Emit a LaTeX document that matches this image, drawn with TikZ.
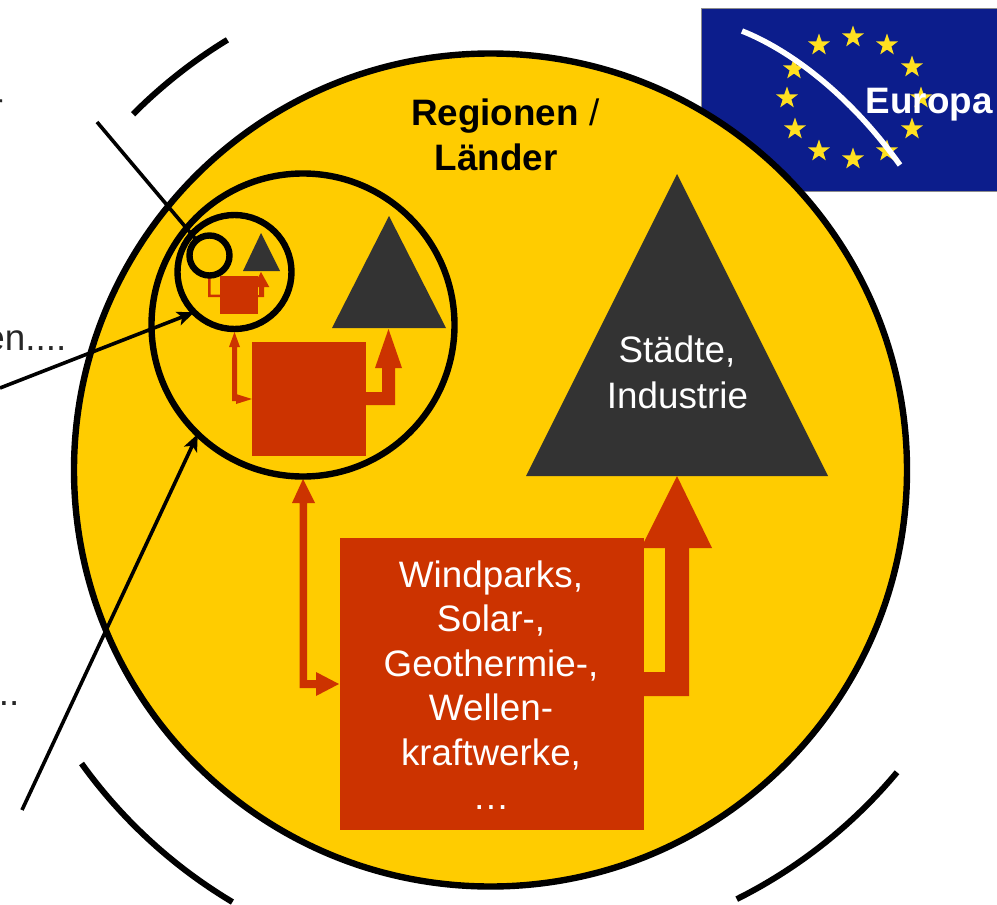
\documentclass[tikz,border=0pt]{standalone}
\usepackage{fontspec}
\setmainfont{Liberation Sans}
\usetikzlibrary{shapes.geometric,arrows.meta}
\definecolor{gold}{HTML}{FFCC00}
\definecolor{brick}{HTML}{CC3300}
\definecolor{slate}{HTML}{333333}
\definecolor{eublue}{HTML}{0C1D8C}
\definecolor{eustar}{HTML}{FFE020}
\tikzset{
  ring/.style={circle,draw=black,line width=6.4pt,inner sep=0pt,outer sep=0pt},
  redbox/.style={rectangle,fill=brick,inner sep=0pt,outer sep=0pt},
  tri/.style={fill=slate},
  redarrow/.style={fill=brick},
  eustarnode/.style={star,star points=5,star point ratio=2.5,fill=eustar,minimum size=23pt,inner sep=0pt},
  txt/.style={font=\fontsize{36.8pt}{44.3pt}\selectfont,align=center,inner sep=0pt},
  boldtxt/.style={txt,font=\fontsize{36.8pt}{44.3pt}\selectfont\bfseries},
  blackline/.style={draw=black,line width=3.6pt},
  outerarc/.style={draw=black,line width=6pt},
  headed/.style={-{Stealth[length=17pt,width=14pt,inset=4pt]}}
}
\begin{document}
\begin{tikzpicture}[x=1pt,y=-1pt]
\useasboundingbox (0,0) rectangle (997,905);
% flag
\node[rectangle,fill=eublue,draw=black!45,line width=1.2pt,inner sep=0pt,minimum width=297pt,minimum height=183pt,anchor=north west] (flag) at (701,8) {};
\foreach \n/\x/\y in {a/853/37,b/887/45,c/912/67,d/921/98,e/912/129,f/887/151,g/853/159,h/819/151,i/795/129,j/787/98,k/794/69,l/819/45}
  \node[eustarnode] (s\n) at (\x,\y) {};
\draw[white,line width=5.5pt] (742,31) .. controls (790,50) and (850,95) .. (900,165);
\node[boldtxt,text=white,anchor=base west] (europa) at (865.5,113) {Europa};
% outer arcs
\draw[outerarc] plot[domain=-121.4:-135.1,samples=40] ({490+504*cos(\x)},{470+504*sin(\x)});
\draw[outerarc] plot[domain=144.3:120.8,samples=40] ({490+503*cos(\x)},{470+503*sin(\x)});
\draw[outerarc] plot[domain=36.6:60.1,samples=40] ({490+(507-(\x-36.6)*0.51)*cos(\x)},{470+(507-(\x-36.6)*0.51)*sin(\x)});
% regions
\node[ring,fill=gold,minimum size=833pt] (big) at (490.5,470) {};
% triangles
\fill[tri] (677,174) -- (828,476) -- (526,476) -- cycle;
\fill[tri] (389,216) -- (446,328) -- (332,328) -- cycle;
\fill[tri] (261,233) -- (280,271) -- (243,271) -- cycle;
% red arrows to towns
\fill[redarrow] (677,476) -- (712,548) -- (689,548) -- (689,696) -- (640,696) -- (640,672) -- (665,672) -- (665,548) -- (641,548) -- cycle;
\fill[redarrow] (388.5,329) -- (402,368) -- (395,368) -- (395,405) -- (360,405) -- (360,392) -- (382,392) -- (382,368) -- (375,368) -- cycle;
\fill[redarrow] (261,272) -- (269.3,287) -- (264,287) -- (264,297) -- (255,297) -- (255,295) -- (259,295) -- (259,287) -- (253,287) -- cycle;
% red double arrows
\fill[redarrow] (303,479) -- (315,503) -- (307,503) -- (307,680) -- (316,680) -- (316,672) -- (339,684) -- (316,696) -- (316,688) -- (299.5,688) -- (299.5,503) -- (292,503) -- cycle;
\fill[redarrow] (234.5,332) -- (240,347) -- (237,347) -- (237,394.5) -- (236,394) -- (252,399) -- (236,404) -- (236,401) -- (232,401) -- (232,347) -- (229,347) -- cycle;
\fill[redarrow] (208,277) -- (210.6,277) -- (210.6,294.5) -- (222,294.5) -- (222,297) -- (208,297) -- cycle;
% boxes
\node[redbox,minimum width=304pt,minimum height=292pt,anchor=north west] (wind) at (340,538) {};
\node[redbox,minimum width=114pt,minimum height=114pt,anchor=north west] (midbox) at (252,342) {};
\node[redbox,minimum width=38pt,minimum height=38pt,anchor=north west] (smallbox) at (220,276) {};
% inner circles on top of the fills
\node[ring,minimum size=303pt] (mid) at (303,325) {};
\node[ring,minimum size=114pt] (small) at (234.5,272) {};
\node[ring,minimum size=40pt] (tiny) at (209.5,255.5) {};
% texts
\node[txt,text=white,anchor=base] (wl1) at (491,587) {Windparks,};
\node[txt,text=white,anchor=base] (wl2) at (491,631) {Solar-,};
\node[txt,text=white,anchor=base] (wl3) at (491,676) {Geothermie-,};
\node[txt,text=white,anchor=base] (wl4) at (491,720) {Wellen-};
\node[txt,text=white,anchor=base] (wl5) at (491,765) {kraftwerke,};
\node[txt,text=white,anchor=base] (wl6) at (491,809) {…};
\node[txt,text=white,anchor=base] (st1) at (677,362) {Städte,};
\node[txt,text=white,anchor=base] (st2) at (677.5,408) {Industrie};
\node[txt,anchor=base west] (re1) at (411,125.5) {\textbf{Regionen} /};
\node[boldtxt,anchor=base] (re2) at (496,170) {Länder};
\node[txt,text=black!85,anchor=base east] (lefta) at (3,119) {r};
\node[txt,text=black!85,anchor=base east] (leftb) at (66.5,350) {en....};
\node[txt,text=black!85,anchor=base east] (leftc) at (19.5,705) {...};
% connectors
\coordinate (f1) at (97,122);
\coordinate (f2) at (0,388);
\coordinate (f3) at (22,810);
\draw[blackline] (f1) -- (tiny);
\draw[blackline,headed] (f2) -- (small.225);
\draw[blackline,headed] (f3) -- (mid.226);
\end{tikzpicture}
\end{document}
